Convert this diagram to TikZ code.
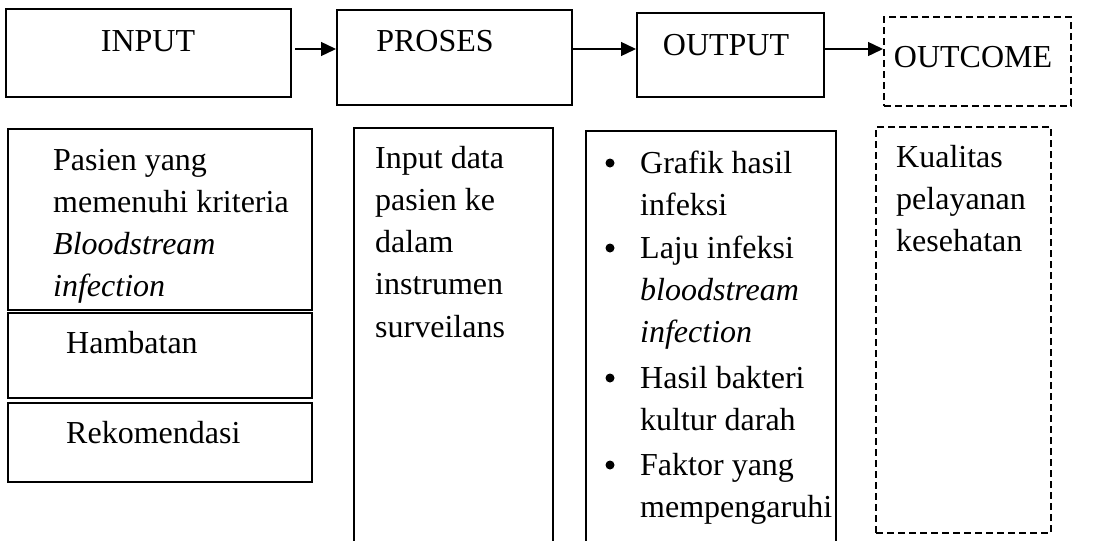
\documentclass[tikz,border=0pt]{standalone}
\usepackage{fontspec}
\setmainfont{Liberation Serif}
\usetikzlibrary{arrows.meta}
\begin{document}
\begin{tikzpicture}[x=1pt,y=-1pt,
  box/.style={draw, line width=1.4pt, rectangle, inner sep=0pt, outer sep=0pt, anchor=north west},
  dbox/.style={box, dash pattern=on 7pt off 4pt},
  txt/.style={anchor=base west, inner sep=0pt, font=\fontsize{32}{42.3}\selectfont},
  ctxt/.style={anchor=base, inner sep=0pt, font=\fontsize{32}{42}\selectfont},
  arr/.style={line width=1.4pt, -{Triangle[length=15pt,width=14pt]}},
  dot/.style={circle, fill, inner sep=0pt, minimum size=9pt}]
\useasboundingbox (0,0) rectangle (1109,541);
% top row boxes
\node[box, minimum width=285pt, minimum height=88pt] (input) at (6,9) {};
\node[box, minimum width=235pt, minimum height=95pt] (proses) at (337,10) {};
\node[box, minimum width=187pt, minimum height=84pt] (output) at (637,13) {};
\node[dbox, minimum width=187pt, minimum height=89pt] (outcome) at (884,17) {};
\node[ctxt] (tinput) at (148,51) {INPUT};
\node[ctxt] (tproses) at (435,51) {PROSES};
\node[ctxt] (toutput) at (726,55) {OUTPUT};
\node[ctxt] (toutcome) at (973,67) {OUTCOME};
% arrows
\coordinate (ay) at (0,49);
\draw[arr, shorten <=4pt, shorten >=1pt] (input.east |- ay) -- (proses.west |- ay);
\draw[arr, shorten >=1pt] (proses.east |- ay) -- (output.west |- ay);
\draw[arr, shorten >=1pt] (output.east |- ay) -- (outcome.west |- ay);
% bottom boxes
\node[box, minimum width=304pt, minimum height=181pt] (pasien) at (8,129) {};
\node[box, minimum width=304pt, minimum height=85pt] (hambatan) at (8,313) {};
\node[box, minimum width=304pt, minimum height=79pt] (rekom) at (8,403) {};
\node[box, minimum width=199pt, minimum height=440pt] (indata) at (354,128) {};
\node[box, minimum width=250pt, minimum height=440pt] (outlist) at (586,131) {};
\node[dbox, minimum width=175pt, minimum height=406pt] (kualitas) at (876,127) {};
% texts
\node[txt] (tpasien) at (53,170) {\vtop{\hbox{Pasien yang}\hbox{memenuhi kriteria}\hbox{\itshape Bloodstream}\hbox{\itshape infection}}};
\node[txt] (thambatan) at (66,353) {Hambatan};
\node[txt] (trekom) at (66,443) {Rekomendasi};
\node[txt] (tindata) at (375,168) {\vtop{\hbox{Input data}\hbox{pasien ke}\hbox{dalam}\hbox{instrumen}\hbox{surveilans}}};
\node[txt] (tkualitas) at (896,167) {\vtop{\hbox{Kualitas}\hbox{pelayanan}\hbox{kesehatan}}};
\node[txt] (ta) at (640,173) {\vtop{\hbox{Grafik hasil}\hbox{infeksi}}};
\node[txt] (tb) at (640,258) {\vtop{\hbox{Laju infeksi}\hbox{\itshape bloodstream}\hbox{\itshape infection}}};
\node[txt] (tc) at (640,388) {\vtop{\hbox{Hasil bakteri}\hbox{kultur darah}}};
\node[txt] (td) at (640,475) {\vtop{\hbox{Faktor yang}\hbox{mempengaruhi}}};
\node[dot] (ba) at (610,163) {};
\node[dot] (bb) at (610,248) {};
\node[dot] (bc) at (610,378) {};
\node[dot] (bd) at (610,465) {};
\end{tikzpicture}
\end{document}
